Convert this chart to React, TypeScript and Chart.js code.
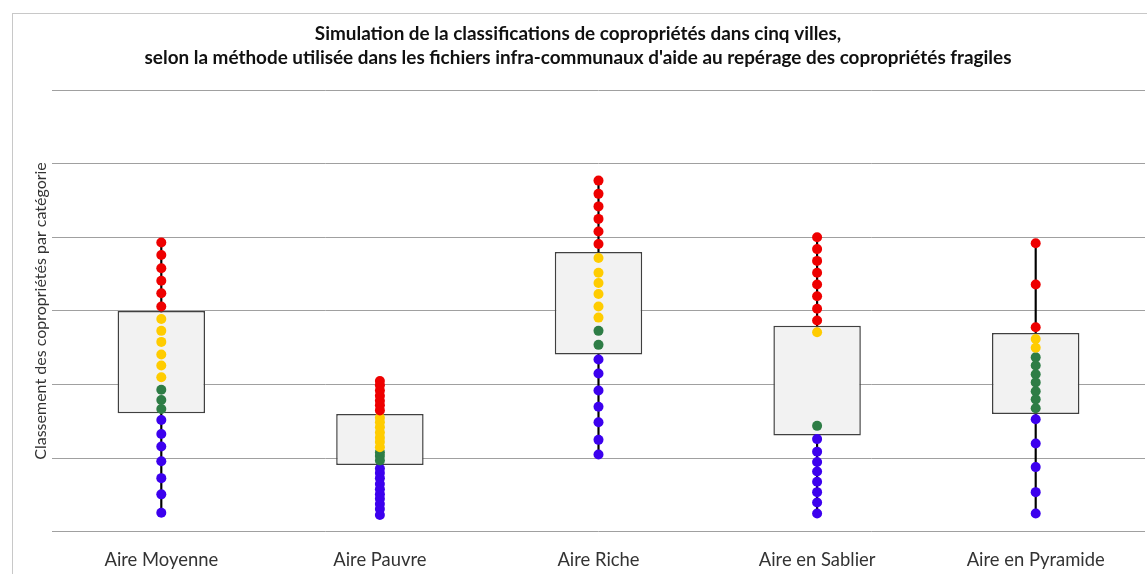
import React, { useEffect, useRef } from "react";
import { Chart, registerables } from "chart.js";

Chart.register(...registerables);

const titleLines = [
  "Simulation de la classifications de copropriétés dans cinq villes,",
  "selon la méthode utilisée dans les fichiers infra-communaux d'aide au repérage des copropriétés fragiles",
];
const yAxisTitle = "Classement des copropriétés par catégorie";
const categories = ["Aire Moyenne", "Aire Pauvre", "Aire Riche", "Aire en Sablier", "Aire en Pyramide"];

const boxLow = [1.61, 0.91, 2.41, 1.31, 1.6];
const boxHigh = [3.0, 1.6, 3.8, 2.8, 2.7];

const redValues = [
  [3.93, 3.76, 3.58, 3.41, 3.24, 3.06],
  [2.05, 1.99, 1.92, 1.85, 1.78, 1.72, 1.65],
  [4.77, 4.59, 4.42, 4.25, 4.08, 3.91],
  [4.0, 3.84, 3.68, 3.52, 3.36, 3.2, 3.03, 2.87],
  [3.92, 3.36, 2.78],
];
const yellowValues = [
  [2.89, 2.73, 2.58, 2.41, 2.26, 2.1],
  [1.55, 1.49, 1.42, 1.35, 1.28, 1.22, 1.15],
  [3.72, 3.52, 3.38, 3.23, 3.06, 2.91],
  [2.71],
  [2.62, 2.5],
];
const greenValues = [
  [1.93, 1.79, 1.67],
  [1.08, 1.03, 0.97],
  [2.73, 2.54],
  [1.44],
  [2.37, 2.26, 2.14, 2.03, 1.91, 1.8, 1.68],
];
const blueValues = [
  [1.52, 1.33, 1.16, 0.96, 0.73, 0.51, 0.26],
  [0.86, 0.8, 0.73, 0.65, 0.58, 0.51, 0.45, 0.38, 0.31, 0.23],
  [2.34, 2.15, 1.92, 1.7, 1.49, 1.25, 1.05],
  [1.26, 1.09, 0.95, 0.82, 0.68, 0.54, 0.4, 0.25],
  [1.53, 1.2, 0.88, 0.54, 0.25],
];

const yMin = 0;
const yMax = 6;
const yStep = 1;

const toPoints = (groups: number[][]) =>
  groups.flatMap((vals, i) => vals.map((v) => ({ x: categories[i], y: v })));

const whiskers = categories.map((_, i) => {
  const all = [...redValues[i], ...yellowValues[i], ...greenValues[i], ...blueValues[i]];
  return [Math.min(...all), Math.max(...all)];
});

const framePlugin = {
  id: "frame",
  beforeDraw(chart: any) {
    const ctx = chart.ctx;
    ctx.save();
    ctx.fillStyle = "#ffffff";
    ctx.fillRect(0, 0, chart.width, chart.height);
    ctx.strokeStyle = "#c8c8c8";
    ctx.lineWidth = 1;
    ctx.strokeRect(12.5, 13.5, 3000, 3000);
    ctx.restore();
  },
};

const W = 1160;
const H = 592;

export default function App() {
  const ref = useRef<HTMLCanvasElement>(null);
  useEffect(() => {
    if (!ref.current) return;
    const dot = (label: string, groups: number[][], color: string) => ({
      type: "line" as const,
      label,
      data: toPoints(groups),
      showLine: false,
      pointRadius: 5,
      pointBorderWidth: 0,
      pointBackgroundColor: color,
      pointBorderColor: color,
      order: 0,
    });
    const chart = new Chart(ref.current, {
      type: "bar",
      data: {
        labels: categories,
        datasets: [
          {
            type: "bar",
            label: "whisker",
            data: whiskers as any,
            backgroundColor: "#000000",
            borderWidth: 0,
            barThickness: 1.5,
            grouped: false,
            order: 3,
          } as any,
          {
            type: "bar",
            label: "box",
            data: categories.map((_, i) => [boxLow[i], boxHigh[i]]) as any,
            backgroundColor: "#f2f2f2",
            borderColor: "#404040",
            borderWidth: 1.5,
            borderSkipped: false,
            barPercentage: 0.4,
            categoryPercentage: 1,
            grouped: false,
            order: 2,
          } as any,
          dot("red", redValues, "#ee0000") as any,
          dot("yellow", yellowValues, "#ffcc00") as any,
          dot("green", greenValues, "#2e7d46") as any,
          dot("blue", blueValues, "#3c00ee") as any,
        ],
      },
      options: {
        animation: false,
        responsive: false,
        devicePixelRatio: 1,
        layout: { padding: { left: 11, right: 15, top: 0, bottom: 3 } },
        plugins: {
          legend: { display: false },
          tooltip: { enabled: false },
          title: {
            display: true,
            text: titleLines,
            color: "#111111",
            font: { family: "Lato", size: 18.9, weight: "bold", lineHeight: 1.27 },
            padding: { top: 22, bottom: 20 },
            fullSize: true,
          },
        },
        scales: {
          x: {
            type: "category",
            offset: true,
            grid: { display: false, drawTicks: false },
            border: { display: false },
            ticks: {
              color: "#333333",
              font: { family: "Lato", size: 18.4, lineHeight: 1.2 },
              padding: 17.5,
            },
          },
          y: {
            min: yMin,
            max: yMax,
            grid: { color: "#a0a0a0", lineWidth: 1, drawTicks: false },
            border: { display: false },
            ticks: { display: false, stepSize: yStep },
            title: {
              display: true,
              text: yAxisTitle,
              color: "#333333",
              font: { family: "Lato", size: 16, lineHeight: 1.2 },
              padding: { top: 20.4, bottom: 1.4 },
            },
          },
        },
      },
      plugins: [framePlugin],
    });
    return () => chart.destroy();
  }, []);
  return (
    <div style={{ position: "fixed", left: 0, top: 0, width: W, height: H }}>
      <canvas ref={ref} width={W} height={H} style={{ width: W, height: H, display: "block" }} />
    </div>
  );
}
